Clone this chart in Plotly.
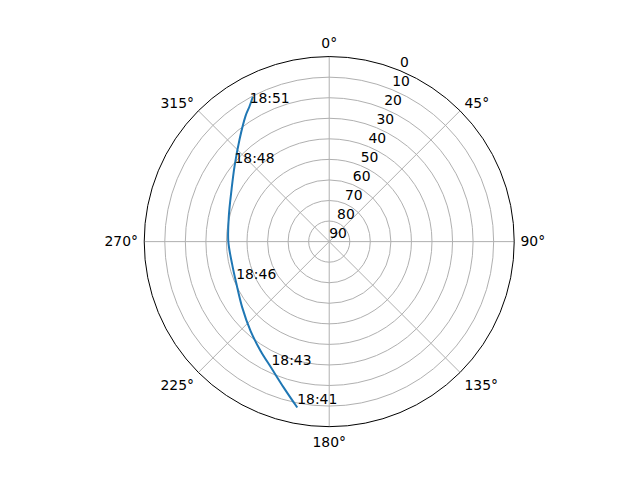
import plotly.graph_objects as go

# satellite pass: azimuth (deg) and elevation (deg)
pass_az = [190.9, 197.3, 204.5, 212.1, 221.4, 232.8, 246.1, 256.8, 270.3,
           284.3, 298.2, 308.4, 318.8, 326.3, 329.6, 332.2]
pass_el = [7.8, 15.6, 22.3, 27.2, 32.1, 36.9, 40.5, 41.5, 40.9,
           39.6, 36.1, 31.2, 23.8, 16.6, 13.5, 10.3]

# time labels along the track
label_az = [190.9, 204.5, 246.1, 308.4, 329.6]
label_el = [7.8, 22.3, 40.5, 31.2, 13.5]
label_text = ["18:41", "18:43", "18:46", "18:48", "18:51"]

r_ticks = [0, 10, 20, 30, 40, 50, 60, 70, 80, 90]
r_label_angle = 22.5
theta_ticks = [0, 45, 90, 135, 180, 225, 270, 315]

font = dict(family="DejaVu Sans", size=13.9, color="black")

fig = go.Figure()
fig.add_trace(go.Scatterpolar(
    r=pass_el, theta=pass_az, mode="lines",
    line=dict(color="#1f77b4", width=2, shape="spline", smoothing=1),
    hoverinfo="skip",
))
fig.add_trace(go.Scatterpolar(
    r=label_el, theta=label_az, mode="text",
    text=label_text, textposition="top right",
    textfont=font, hoverinfo="skip",
))
# radial tick labels, matplotlib style (left/bottom anchored at 22.5 deg)
fig.add_trace(go.Scatterpolar(
    r=r_ticks, theta=[r_label_angle] * len(r_ticks), mode="text",
    text=[str(v) for v in r_ticks], textposition="top right",
    textfont=font, hoverinfo="skip", cliponaxis=False,
))

fig.update_layout(
    width=640, height=480,
    margin=dict(l=0, r=0, t=0, b=0),
    paper_bgcolor="white",
    showlegend=False,
    font=font,
    polar=dict(
        domain=dict(x=[0.2128, 0.7910], y=[0.1279, 0.8987]),
        bgcolor="white",
        angularaxis=dict(
            rotation=90, direction="clockwise",
            tickmode="array", tickvals=theta_ticks,
            ticktext=[f"{t}°" for t in theta_ticks],
            ticks="outside", ticklen=3, tickcolor="rgba(0,0,0,0)",
            showline=True, linecolor="black", linewidth=1,
            showgrid=True, gridcolor="#b0b0b0", gridwidth=0.8,
            tickfont=font,
        ),
        radialaxis=dict(
            range=[90, 0], angle=67.5,
            tickmode="array", tickvals=r_ticks,
            showline=False, ticks="", showticklabels=False,
            showgrid=True, gridcolor="#b0b0b0", gridwidth=0.8,
        ),
    ),
)

fig.write_html("out.html")
